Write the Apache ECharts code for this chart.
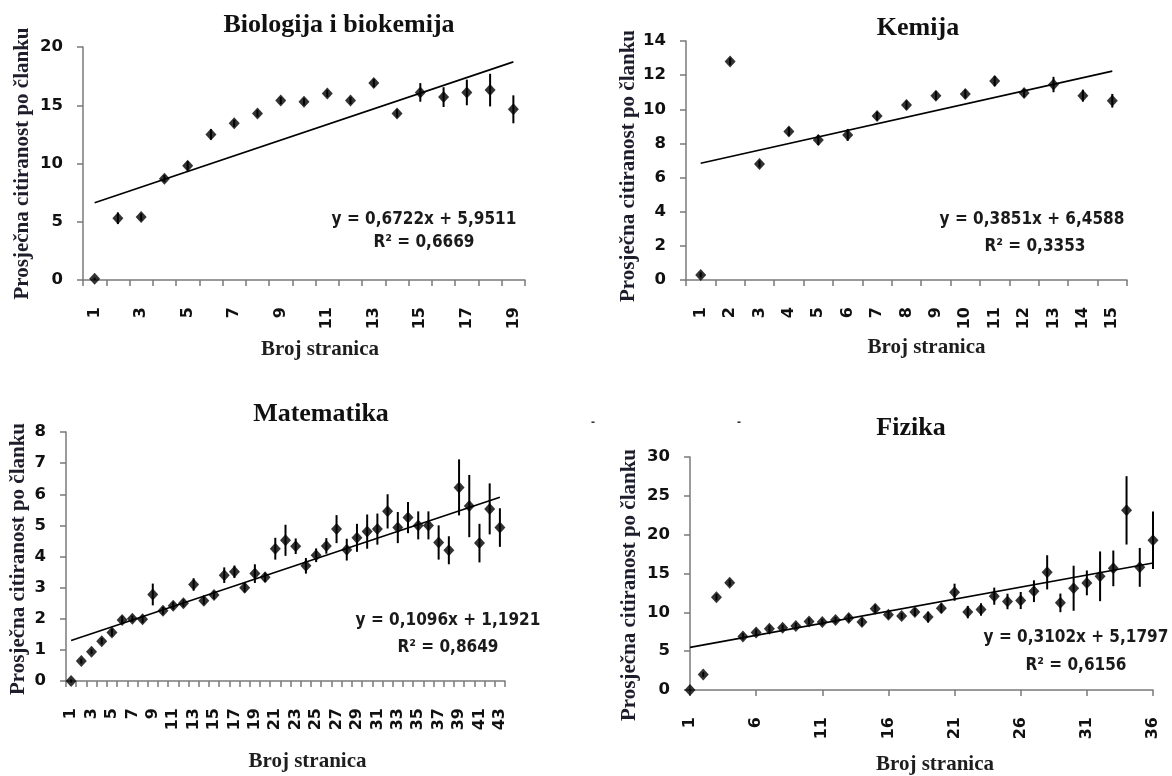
<!DOCTYPE html>
<html><head><meta charset="utf-8">
<script src="https://cdn.jsdelivr.net/npm/echarts@6/dist/echarts.min.js"></script>
<style>html,body{margin:0;padding:0;background:#fff}#c{width:1172px;height:776px}</style>
</head><body><div id="c"></div>
<script>
// ---------------- DATA ----------------
const bioCategories = ['1','2','3','4','5','6','7','8','9','10','11','12','13','14','15','16','17','18','19'];
const bioValues = [0.1, 5.3, 5.4, 8.7, 9.8, 12.5, 13.45, 14.3, 15.4, 15.3, 16.0, 15.4, 16.9, 14.3, 16.1, 15.7, 16.1, 16.3, 14.65];
const bioErrors = [0.1, 0.5, 0.3, 0.3, 0.4, 0.45, 0.3, 0.3, 0.3, 0.3, 0.3, 0.3, 0.35, 0.35, 0.8, 0.85, 1.1, 1.4, 1.2];
const bioTrend = {slope: 0.6722, intercept: 5.9511, r2: 0.6669};

const chemCategories = ['1','2','3','4','5','6','7','8','9','10','11','12','13','14','15'];
const chemValues = [0.3, 12.8, 6.8, 8.7, 8.2, 8.5, 9.6, 10.25, 10.8, 10.9, 11.65, 10.95, 11.45, 10.8, 10.5];
const chemErrors = [0.15, 0.2, 0.2, 0.25, 0.3, 0.35, 0.25, 0.25, 0.25, 0.25, 0.3, 0.25, 0.45, 0.35, 0.4];
const chemTrend = {slope: 0.3851, intercept: 6.4588, r2: 0.3353};

const mathCategories = ['1','2','3','4','5','6','7','8','9','10','11','12','13','14','15','16','17','18','19','20','21','22','23','24','25','26','27','28','29','30','31','32','33','34','35','36','37','38','39','40','41','42','43'];
const mathValues = [0, 0.64, 0.94, 1.28, 1.56, 1.96, 2.0, 1.98, 2.78, 2.26, 2.42, 2.5, 3.1, 2.58, 2.76, 3.4, 3.51, 3.0, 3.45, 3.33, 4.25, 4.52, 4.33, 3.7, 4.04, 4.34, 4.88, 4.22, 4.6, 4.8, 4.88, 5.45, 4.93, 5.25, 5.0, 5.0, 4.45, 4.2, 6.22, 5.62, 4.43, 5.53, 4.93];
const mathErrors = [0.05, 0.08, 0.08, 0.1, 0.12, 0.12, 0.1, 0.12, 0.35, 0.12, 0.12, 0.12, 0.2, 0.12, 0.12, 0.25, 0.2, 0.15, 0.3, 0.15, 0.35, 0.5, 0.25, 0.25, 0.22, 0.25, 0.45, 0.35, 0.45, 0.55, 0.5, 0.55, 0.5, 0.5, 0.45, 0.45, 0.55, 0.45, 0.9, 1.0, 0.62, 0.82, 0.62];
const mathTrend = {slope: 0.1096, intercept: 1.1921, r2: 0.8649};

const physCategories = ['1','2','3','4','5','6','7','8','9','10','11','12','13','14','15','16','17','18','19','20','21','22','23','24','25','26','27','28','29','30','31','32','33','34','35','36'];
const physValues = [0, 2.0, 11.95, 13.8, 6.9, 7.4, 7.9, 8.0, 8.24, 8.83, 8.75, 9.0, 9.26, 8.75, 10.46, 9.69, 9.52, 10.03, 9.39, 10.54, 12.59, 10.03, 10.37, 12.08, 11.4, 11.52, 12.72, 15.15, 11.22, 13.1, 13.79, 14.64, 15.66, 23.13, 15.79, 19.29];
const physErrors = [0.1, 0.3, 0.4, 0.4, 0.4, 0.4, 0.4, 0.4, 0.4, 0.4, 0.4, 0.4, 0.5, 0.5, 0.5, 0.5, 0.4, 0.5, 0.7, 0.6, 1.1, 0.8, 0.8, 1.1, 1.0, 1.1, 1.4, 2.2, 1.2, 2.9, 1.6, 3.2, 2.3, 4.4, 2.5, 3.7];
const physTrend = {slope: 0.3102, intercept: 5.1797, r2: 0.6156};

const titles = ['Biologija i biokemija', 'Kemija', 'Matematika', 'Fizika'];
const xName = 'Broj stranica';
const yName = 'Prosječna citiranost po članku';
const yMax = [20, 14, 8, 30];
const yStep = [5, 2, 1, 5];

// ---------------- LAYOUT ----------------
const panels = [
  {cats: bioCategories, vals: bioValues, errs: bioErrors, trend: bioTrend,
   grid: {left: 83, top: 47, width: 442, height: 233}, title: [339, 12], eq: [424, 220], r2: [424, 243],
   yGap: 50, yPad: 0, xGap: 59, xPad: 32, lblInt: 1, tickInt: 0, gap: true, xFont: 16},
  {cats: chemCategories, vals: chemValues, errs: chemErrors, trend: chemTrend,
   grid: {left: 686, top: 41, width: 441, height: 239}, title: [918, 15], eq: [1032, 220], r2: [1035, 246.5],
   yGap: 45, yPad: 11, xGap: 57, xPad: 40, lblInt: 0, tickInt: 0, gap: true, xFont: 16},
  {cats: mathCategories, vals: mathValues, errs: mathErrors, trend: mathTrend,
   grid: {left: 66, top: 432, width: 439, height: 249}, title: [321, 401], eq: [448, 621], r2: [448, 647.5],
   yGap: 37, yPad: 5, xGap: 70, xPad: 44, lblInt: 1, tickInt: 0, gap: true, xFont: 16},
  {cats: physCategories, vals: physValues, errs: physErrors, trend: physTrend,
   grid: {left: 690, top: 457, width: 463, height: 235}, title: [911, 415], eq: [1076, 638], r2: [1076, 666],
   yGap: 50, yPad: 23, xGap: 64, xPad: 27, lblInt: 4, tickInt: 4, gap: false, xFont: 16}
];

const AXIS = '#7a7a7a';
const NUMFONT = '"DejaVu Sans", sans-serif';
const SERIF = '"Liberation Serif", "Times New Roman", serif';
const fmt = v => v.toFixed(4).replace('.', ',');

const option = {
  backgroundColor: '#fff',
  animation: false,
  title: [], grid: [], xAxis: [], yAxis: [], series: [], graphic: []
};

panels.forEach((p, i) => {
  option.title.push({
    text: titles[i], left: p.title[0], top: p.title[1], textAlign: 'center', padding: 0,
    textStyle: {fontFamily: SERIF, fontWeight: 'bold', fontSize: 26, color: '#111'}
  });
  option.grid.push(Object.assign({containLabel: false}, p.grid));
  option.xAxis.push({
    type: 'category', gridIndex: i, data: p.cats, boundaryGap: p.gap,
    name: xName, nameLocation: 'middle', nameGap: p.xGap,
    nameTextStyle: {fontFamily: SERIF, fontWeight: 'bold', fontSize: 21, color: '#1e1e1e', padding: [0, 0, 0, p.xPad]},
    axisLine: {show: true, lineStyle: {color: AXIS, width: 1.5}},
    axisTick: {show: true, length: 6, interval: p.tickInt, alignWithLabel: !p.gap, lineStyle: {color: AXIS, width: 1.5}},
    axisLabel: {interval: p.lblInt, rotate: 90, margin: 27, fontFamily: NUMFONT, fontWeight: 'bold', fontSize: p.xFont, color: '#111'},
    splitLine: {show: false}
  });
  option.yAxis.push({
    type: 'value', gridIndex: i, min: 0, max: yMax[i], interval: yStep[i],
    name: yName, nameLocation: 'middle', nameGap: p.yGap,
    nameTextStyle: {fontFamily: SERIF, fontWeight: 'bold', fontSize: 21, color: '#1d1d2b', padding: [0, p.yPad, 0, 0]},
    axisLine: {show: true, lineStyle: {color: AXIS, width: 1.5}},
    axisTick: {show: true, length: 6, lineStyle: {color: AXIS, width: 1.5}},
    axisLabel: {margin: 20, fontFamily: NUMFONT, fontWeight: 'bold', fontSize: 16.5, color: '#111'},
    splitLine: {show: false}
  });
  // error bars
  option.series.push({
    type: 'custom', xAxisIndex: i, yAxisIndex: i, z: 2,
    data: p.vals.map((v, k) => [k, v - p.errs[k], v + p.errs[k]]),
    encode: {x: 0, y: [1, 2]},
    renderItem: (params, api) => {
      const a = api.coord([api.value(0), api.value(1)]);
      const b = api.coord([api.value(0), api.value(2)]);
      return {type: 'line', shape: {x1: a[0], y1: a[1], x2: b[0], y2: b[1]}, style: {stroke: '#000', lineWidth: 2}};
    }
  });
  // linear trend line (from the equation shown in the chart)
  const n = p.cats.length;
  option.series.push({
    type: 'line', xAxisIndex: i, yAxisIndex: i, z: 3, symbol: 'none', silent: true,
    data: [[p.cats[0], p.trend.slope * 1 + p.trend.intercept], [p.cats[n - 1], p.trend.slope * n + p.trend.intercept]],
    lineStyle: {color: '#000', width: 1.6}
  });
  // points
  option.series.push({
    type: 'scatter', xAxisIndex: i, yAxisIndex: i, z: 4,
    data: p.vals, symbol: 'diamond', symbolSize: [11, 12],
    itemStyle: {color: '#000'}
  });
  option.graphic.push({
    type: 'text', x: p.eq[0], y: p.eq[1], silent: true,
    style: {text: 'y = ' + fmt(p.trend.slope) + 'x + ' + fmt(p.trend.intercept), textAlign: 'center', textVerticalAlign: 'middle',
      font: 'bold 17px "DejaVu Sans Condensed", "DejaVu Sans", sans-serif', fill: '#1a1a1a'}
  });
  option.graphic.push({
    type: 'text', x: p.r2[0], y: p.r2[1], silent: true,
    style: {text: 'R² = ' + fmt(p.trend.r2), textAlign: 'center', textVerticalAlign: 'middle',
      font: 'bold 17px "DejaVu Sans Condensed", "DejaVu Sans", sans-serif', fill: '#1a1a1a'}
  });
});

// two small stray dashes present in the original image above the Fizika panel
option.graphic.push({type: 'text', x: 593, y: 423, style: {text: '-', textAlign: 'center', textVerticalAlign: 'middle', font: 'bold 12px sans-serif', fill: '#333'}});
option.graphic.push({type: 'text', x: 739, y: 423, style: {text: '-', textAlign: 'center', textVerticalAlign: 'middle', font: 'bold 12px sans-serif', fill: '#333'}});

const chart = echarts.init(document.getElementById('c'), null, {renderer: 'canvas'});
chart.setOption(option);
</script>
</body></html>
